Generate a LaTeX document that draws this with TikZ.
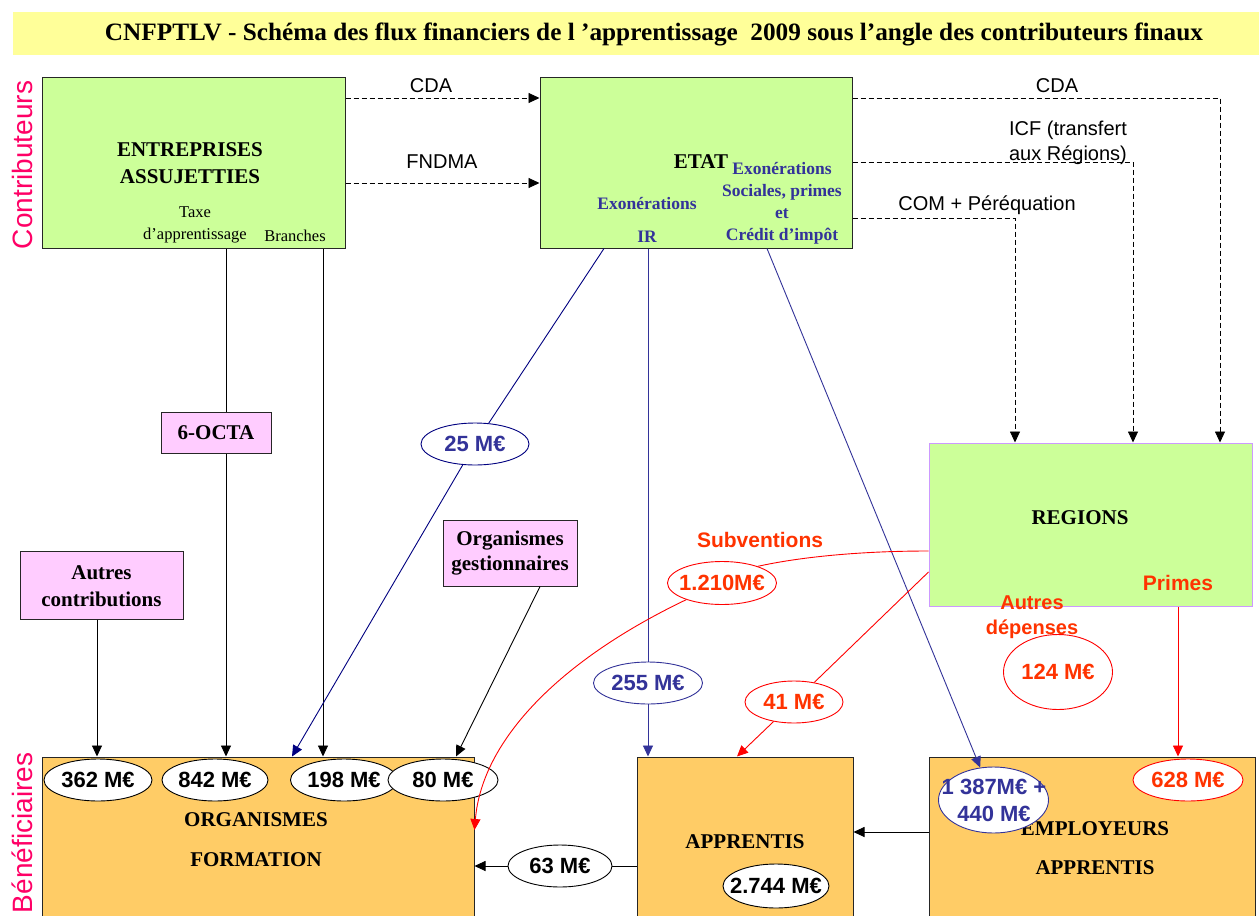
\documentclass[tikz,border=0pt]{standalone}
\usepackage{fontspec}
\setmainfont{Liberation Serif}
\setsansfont{Liberation Sans}
\usetikzlibrary{arrows.meta,shapes.geometric}
\definecolor{boxgreen}{HTML}{CCFF99}
\definecolor{boxpink}{HTML}{FFCCFF}
\definecolor{boxorange}{HTML}{FFCC66}
\definecolor{titleyellow}{HTML}{FFFF99}
\definecolor{bluetxt}{HTML}{333399}
\definecolor{navyarr}{HTML}{000080}
\definecolor{redtxt}{HTML}{FF3300}
\definecolor{redline}{HTML}{FF0000}
\definecolor{pinklabel}{HTML}{FF0066}
\definecolor{regborder}{HTML}{CC99FF}
\tikzset{
  box/.style={draw=black!85, line width=1pt, inner sep=0pt},
  arr/.style={-{Triangle[length=11pt,width=10pt]}},
  blk/.style={draw=black, line width=0.9pt},
  dasharr/.style={blk, arr, dash pattern=on 5pt off 3pt},
  redl/.style={draw=redline, line width=0.9pt},
  bluel/.style={draw=bluetxt, line width=0.9pt},
  navyl/.style={draw=navyarr, line width=0.9pt},
  ell/.style={ellipse, draw, fill=white, line width=0.9pt, inner sep=0pt},
  etxt/.style={font=\sffamily\bfseries\fontsize{22}{27}\selectfont, inner sep=0pt, align=center},
  bsf/.style={font=\bfseries\fontsize{21}{27}\selectfont, align=center, inner sep=0pt},
  bluet/.style={font=\bfseries\fontsize{17.5}{22}\selectfont, text=bluetxt, align=center, inner sep=0pt},
  lbl/.style={font=\sffamily\fontsize{20}{25}\selectfont, inner sep=0pt},
  redt/.style={font=\sffamily\bfseries\fontsize{21}{25}\selectfont, text=redtxt, align=center, inner sep=0pt},
  side/.style={rotate=90, text=pinklabel, font=\sffamily\fontsize{28}{30}\selectfont, inner sep=0pt}
}
\begin{document}
\begin{tikzpicture}[x=1pt,y=-1pt]
\useasboundingbox (0,0) rectangle (1259,916);
\fill[white] (0,0) rectangle (1259,916);
% title
\node[fill=titleyellow, minimum width=1246pt, minimum height=43pt, inner sep=0pt] (band) at (636,33.5) {};
\node[inner sep=0pt] (title) at (654,34) {\resizebox{1098pt}{\height}{\bfseries\fontsize{25}{27}\selectfont CNFPTLV - Schéma des flux financiers de l ’apprentissage\ \ 2009 sous l’angle des contributeurs finaux}};
% side labels
\node[side] (contrib) at (22,165) {Contributeurs};
\node[side] (benef) at (22,833) {Bénéficiaires};
% top boxes
\node[box, fill=boxgreen, minimum width=303pt, minimum height=171pt] (ent) at (193.5,162.5) {};
\node[bsf] (entl) at (190,163.5) {ENTREPRISES\\ASSUJETTIES};
\node[font=\fontsize{16.5}{22}\selectfont, align=center, inner sep=0pt] (taxe) at (195,225) {Taxe\\d’apprentissage};
\node[font=\fontsize{16.5}{22}\selectfont, inner sep=0pt] (branches) at (295,236) {Branches};
\node[box, fill=boxgreen, minimum width=312pt, minimum height=171pt] (etat) at (696,162.5) {};
\node[bsf] (etatl) at (701,162) {ETAT};
\node[bluet] (exo1) at (782,203) {Exonérations\\Sociales, primes\\et\\Crédit d’impôt};
\node[bluet, font=\bfseries\fontsize{17.5}{33}\selectfont] (exo2) at (647,219.5) {Exonérations\\IR};
% regions
\node[box, draw=regborder, fill=boxgreen, minimum width=323pt, minimum height=163pt] (reg) at (1090.5,524.5) {};
\node[bsf] (regl) at (1080,518) {REGIONS};
% pink boxes
\node[box, fill=boxpink, minimum width=110pt, minimum height=41pt] (octa) at (216,432.5) {};
\node[bsf] (octal) at (216,432.5) {6-OCTA};
\node[box, fill=boxpink, minimum width=163pt, minimum height=68pt] (autres) at (101.5,585) {};
\node[bsf] (autresl) at (101.5,586) {Autres\\contributions};
\node[box, fill=boxpink, minimum width=134pt, minimum height=66pt] (orgges) at (510,553) {};
\node[bsf, font=\bfseries\fontsize{21}{25}\selectfont] (orggesl) at (510,553.5) {Organismes\\gestionnaires};
% bottom boxes
\node[box, fill=boxorange, minimum width=432pt, minimum height=170pt] (org) at (258,842) {};
\node[bsf, font=\bfseries\fontsize{21}{40}\selectfont] (orgl) at (256,840) {ORGANISMES\\FORMATION};
\node[box, fill=boxorange, minimum width=216pt, minimum height=170pt] (app) at (745,842) {};
\node[bsf] (appl) at (745,842) {APPRENTIS};
\node[box, fill=boxorange, minimum width=326pt, minimum height=170pt] (emp) at (1092,842) {};
\node[bsf, font=\bfseries\fontsize{21}{39}\selectfont] (empl) at (1095,848.5) {EMPLOYEURS\\APPRENTIS};
% ellipses
\node[ell, minimum width=108pt, minimum height=42pt] (e362) at (98,780) {};
\node[etxt] (t362) at (e362) {362 M€};
\node[ell, minimum width=106pt, minimum height=42pt] (e842) at (215,780) {};
\node[etxt] (t842) at (e842) {842 M€};
\node[ell, minimum width=107pt, minimum height=42pt] (e198) at (344,780) {};
\node[etxt] (t198) at (e198) {198 M€};
\node[ell, minimum width=110pt, minimum height=42pt] (e80) at (443,780) {};
\node[etxt] (t80) at (e80) {80 M€};
\node[ell, minimum width=104pt, minimum height=42pt] (e63) at (560,866) {};
\node[etxt] (t63) at (e63) {63 M€};
\node[ell, minimum width=106pt, minimum height=44pt] (e2744) at (776,886) {};
\node[etxt] (t2744) at (e2744) {2.744 M€};
\node[ell, draw=bluetxt, minimum width=110pt, minimum height=66pt] (e1387) at (993.5,800) {};
\node[etxt, text=bluetxt, font=\sffamily\bfseries\fontsize{22}{27}\selectfont] (t1387) at (994,800) {1 387M€ +\\440 M€};
\node[ell, draw=redline, minimum width=110pt, minimum height=42pt] (e628) at (1188,780) {};
\node[etxt, text=redtxt] (t628) at (e628) {628 M€};
\node[ell, draw=redline, minimum width=98pt, minimum height=42pt] (e41) at (794,702) {};
\node[etxt, text=redtxt] (t41) at (e41) {41 M€};
\node[ell, draw=bluetxt, minimum width=109pt, minimum height=42pt] (e255) at (648,683) {};
\node[etxt, text=bluetxt] (t255) at (e255) {255 M€};
\node[ell, draw=navyarr, minimum width=108pt, minimum height=42pt] (e25) at (475,444) {};
\node[etxt, text=bluetxt] (t25) at (e25) {25 M€};
\node[ell, draw=redline, minimum width=109pt, minimum height=43pt] (e1210) at (722,583) {};
\node[etxt, text=redtxt] (t1210) at (e1210) {1.210M€};
\node[ell, draw=redline, minimum width=109pt, minimum height=75pt] (e124) at (1058,672) {};
\node[etxt, text=redtxt] (t124) at (e124) {124 M€};
% red labels
\node[redt] (subv) at (760,540) {Subventions};
\node[redt] (primes) at (1178,583) {Primes};
\node[redt, font=\sffamily\bfseries\fontsize{20}{25}\selectfont] (autdep) at (1032,617.5) {Autres\\dépenses};
% top labels
\node[lbl] (cda1) at (431,86) {CDA};
\node[lbl] (fndma) at (442,162) {FNDMA};
\node[lbl] (cda2) at (1057,86) {CDA};
\node[lbl, align=left] (icf) at (1068,142.5) {ICF (transfert\\aux Régions)};
\node[lbl] (com) at (987,205) {COM + Péréquation};
% dashed connectors
\draw[dasharr] (ent.east |- 0,98) -- (etat.west |- 0,98);
\draw[dasharr] (ent.east |- 0,183) -- (etat.west |- 0,183);
\draw[dasharr] (etat.east |- 0,98) -| (reg.north -| 1220,0);
\draw[dasharr] (etat.east |- 0,162) -| (reg.north -| 1133,0);
\draw[dasharr] (etat.east |- 0,218) -| (reg.north -| 1015,0);
% black connectors
\draw[blk] (ent.south -| 226,0) -- (octa.north -| 226,0);
\draw[blk, arr] (octa.south -| 226,0) -- (org.north -| 226,0);
\draw[blk, arr] (ent.south -| 323,0) -- (org.north -| 323,0);
\draw[blk, arr] (autres.south -| 97,0) -- (org.north -| 97,0);
\draw[blk, arr] (orgges.south -| 540,0) -- (org.north -| 456,0);
\draw[blk, arr] (emp.west |- 0,832) -- (app.east |- 0,832);
\draw[blk] (app.west |- 0,866) -- (e63);
\draw[blk, arr] (e63) -- (org.east |- 0,866);
% blue connectors
\draw[navyl] (etat.south -| 604,0) -- (e25);
\draw[navyl, arr] (e25) -- (org.north -| 292,0);
\draw[bluel] (etat.south -| 648,0) -- (e255);
\draw[bluel, arr] (e255) -- (app.north -| 648,0);
\draw[bluel, arr] (etat.south -| 767,0) -- (e1387);
% red connectors
\draw[redl] (reg.west |- 0,551) .. controls (860,551) and (800,557) .. (e1210.25);
\draw[redl, arr] (e1210.205) .. controls (560,660) and (482,740) .. (org.east |- 0,830);
\draw[redl] (reg.west |- 0,572) -- (e41);
\draw[redl, arr] (e41) -- (app.north -| 737,0);
\draw[redl, arr] (reg.south -| 1178,0) -- (emp.north -| 1178,0);
\end{tikzpicture}
\end{document}
